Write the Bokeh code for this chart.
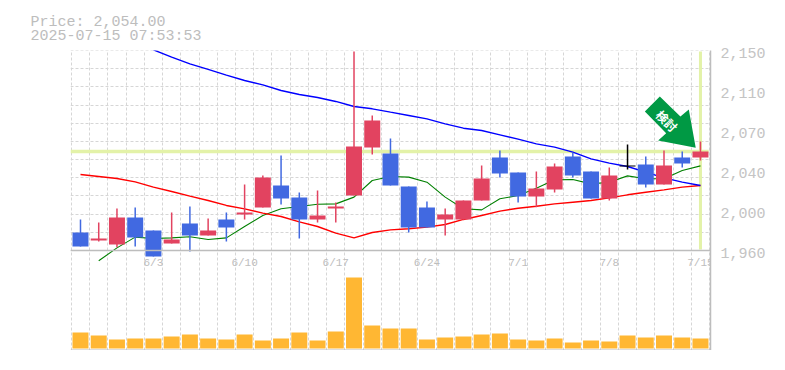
from bokeh.plotting import figure
from bokeh.embed import file_html
from bokeh.resources import INLINE
from bokeh.models import (ColumnDataSource, FixedTicker, LinearAxis, Range1d, Title, Span)
from bokeh.core.properties import value

highs = [1989.5,1986.6,1999.9,2000.9,1979,1996.1,2001.8,1990.4,1996.1,2022.7,2031.3,2050.3,2015.1,2017,2005.6,2149,2088.3,2066.4,2020.8,2006.6,1999.9,2007.5,2040.8,2055,2034.1,2035,2042.7,2053.1,2035,2038.9,2060.7,2049.3,2055,2054,2063.6]
tops = [1977.1,1971.4,1991.4,1991.4,1979,1970.5,1985.7,1979,1989.5,1996.1,2029.4,2021.8,2010.4,1993.3,2001.8,2058.8,2083.5,2052.1,2020.8,2000.9,1994.2,2007.5,2028.4,2048.4,2034.1,2018.9,2039.8,2049.3,2035,2031.3,2040.8,2041.7,2040.8,2048.4,2054]
bottoms = [1963.8,1969.5,1965.7,1972.4,1954.3,1966.7,1974.3,1974.3,1981.9,1994.2,2000.9,2009.4,1989.5,1989.5,1999.9,2012.3,2057.9,2021.8,1981.9,1981.9,1989.5,1989.5,2007.5,2033.2,2011.3,2011.3,2018,2031.3,2009.4,2009.4,2039.8,2022.7,2022.7,2042.7,2048.4]
lows = [1963.8,1968.6,1963.2,1963.8,1954.3,1966.7,1959,1974.3,1968.6,1989.5,2000.9,2003.7,1971.4,1986.6,1986.6,2012.3,2051.2,2021.8,1977.1,1981.9,1974.3,1989.5,2007.5,2029.4,2005.6,2001.2,2015.1,2029.4,2009.4,2007.5,2037,2019.9,2022.7,2038.9,2045.5]
directions = ["d","u","u","d","d","u","d","u","d","u","u","d","d","u","u","u","u","d","d","d","u","u","u","d","d","u","u","d","d","u","f","d","u","d","u"]
volumes = [1600,1300,900,1000,1000,1200,1400,1000,900,1400,800,1000,1600,800,1700,7100,2300,2000,2000,900,1100,1200,1400,1500,900,800,1000,600,800,700,1300,1100,1300,1100,1000]
ma_long = [2150.6,2143.7,2137.3,2132,2126.6,2121.5,2117.4,2112,2108.2,2105.4,2101.6,2096.8,2094.6,2091.4,2088.3,2085.1,2080.3,2076.2,2074,2069.9,2065.8,2061.3,2058.2,2053.4,2047.1,2043,2039.8,2034.4,2029,2024.9,2021.8]
ma_mid = [2032.2,2030.3,2028.4,2025.2,2020.2,2016,2011.6,2007.5,2002.8,1999.6,1995.5,1992.3,1987.2,1982.8,1976.5,1972,1977.1,1979.6,1980.6,1982.2,1984.7,1989.5,1993.3,1997.4,2000.2,2002.1,2004.3,2005.9,2007.5,2010,2012.9,2015.4,2017.6,2020.2,2021.8]
ma_short = [1950.2,1962.5,1972.7,1971.4,1972,1973,1970.5,1972,1982.8,1993.3,1999.6,2001.8,2004,2004.3,2010.7,2026.5,2030.3,2029.7,2024.9,2010.7,1999.6,1998.6,2009.1,2012.3,2019.2,2027.1,2027.5,2023.3,2024.9,2030.9,2028.1,2028.1,2036,2040.4]
date_ticks = {4:"6/3",9:"6/10",14:"6/17",19:"6/24",24:"7/1",29:"7/8",34:"7/15"}
price_labels = ["1,960","2,000","2,040","2,070","2,110","2,150"]
price_tick_values = [1957.2,1995.2,2033.2,2071.2,2109.2,2147.2]
last_price = 2054
title_lines = ["Price: 2,054.00","2025-07-15 07:53:53"]
arrow_x = [31.77,30.95,32.12,31.68,33.74,33.36,32.9]
arrow_y = [2106.3,2092,2071.4,2064.5,2057.6,2094,2087.3]

n = len(highs)
xs = list(range(n))
palette = {"u":"#E24360","d":"#4169E1","f":"#000000"}
colors = [palette[d] for d in directions]
src = ColumnDataSource(dict(x=xs,h=highs,l=lows,t=tops,b=bottoms,v=volumes,c=colors))

GRAY = "#BDBDBD"
MONO = "Liberation Mono"
p = figure(width=769, height=354, frame_width=640, frame_height=300, output_backend="svg", toolbar_location=None,
           x_range=Range1d(-0.548,34.55), y_range=Range1d(1865,2150),
           min_border_left=70, min_border_top=50, min_border_right=59, min_border_bottom=0,
           background_fill_color="white", border_fill_color="white", outline_line_color=None)
p.extra_y_ranges = {"vol":Range1d(-200,29800)}

p.title = Title(text="\n".join(title_lines), align="left", offset=-40, standoff=10, text_font=MONO, text_font_size="15px",
                text_font_style="normal", text_color="#BDBDBD", text_line_height=0.88)

p.xaxis[0].ticker = FixedTicker(ticks=list(date_ticks))
p.xaxis[0].major_label_overrides = date_ticks
p.xaxis[0].fixed_location = 1960
p.xaxis[0].axis_line_color = GRAY
p.xaxis[0].axis_line_width = 1.5
p.xaxis[0].major_tick_line_color = None
p.xaxis[0].minor_tick_line_color = None
p.xaxis[0].major_tick_out = 0
p.xaxis[0].major_label_standoff = 6
p.xaxis[0].major_label_text_font = MONO
p.xaxis[0].major_label_text_font_size = "11px"
p.xaxis[0].major_label_text_color = "#BDBDBD"

p.yaxis.visible = False
right = LinearAxis(ticker=FixedTicker(ticks=price_tick_values),
                   major_label_overrides=dict(zip(price_tick_values,price_labels)),
                   axis_line_color=GRAY, axis_line_width=1.5,
                   major_tick_line_color=None, minor_tick_line_color=None, major_tick_out=0,
                   major_label_standoff=10, major_label_text_font=MONO,
                   major_label_text_font_size="15px", major_label_text_color="#C4C4C4")
p.add_layout(right,"right")

p.xgrid.ticker = FixedTicker(ticks=[i-0.5 for i in range(n+1)])
p.ygrid.ticker = FixedTicker(ticks=[1960+17.27*i for i in range(12)])
for g in (p.xgrid[0],p.ygrid[0]):
    g.grid_line_color = "#D6D6D6"
    g.grid_line_dash = "3 2"
    g.grid_line_width = 1

p.add_layout(Span(location=1865,dimension="width",line_color=GRAY,line_width=2))

# price guide lines
p.segment([-0.55],[last_price],[34.45],[last_price],line_color="#E3F2A8",line_width=3.5)
p.segment([34],[1961],[34],[2149],line_color="#E3F2A8",line_width=3)

p.line(xs[1:],ma_short,line_color="#008000",line_width=1.1)
p.line(xs,ma_mid,line_color="#FF0000",line_width=1.4)
p.line(xs[4:],ma_long,line_color="#0000FF",line_width=1.4)

p.segment("x","h","x","l",source=src,line_color="c",line_width=1.5)
p.vbar(x="x",top="t",bottom="b",width=0.877,source=src,fill_color="c",line_color=None)
p.vbar(x="x",top="v",bottom=0,width=0.877,source=src,fill_color="#FFB733",line_color=None,y_range_name="vol")

p.patch(arrow_x,arrow_y,fill_color="#009944",line_color=None)
p.text([32.17],[2083.5],text=["検討"],angle=-0.785,text_color="white",text_align="center",text_baseline="middle",
       text_font=value("Noto Sans CJK JP"),text_font_size="12px",text_font_style="bold")

open("out.html","w").write(file_html(p,INLINE))
